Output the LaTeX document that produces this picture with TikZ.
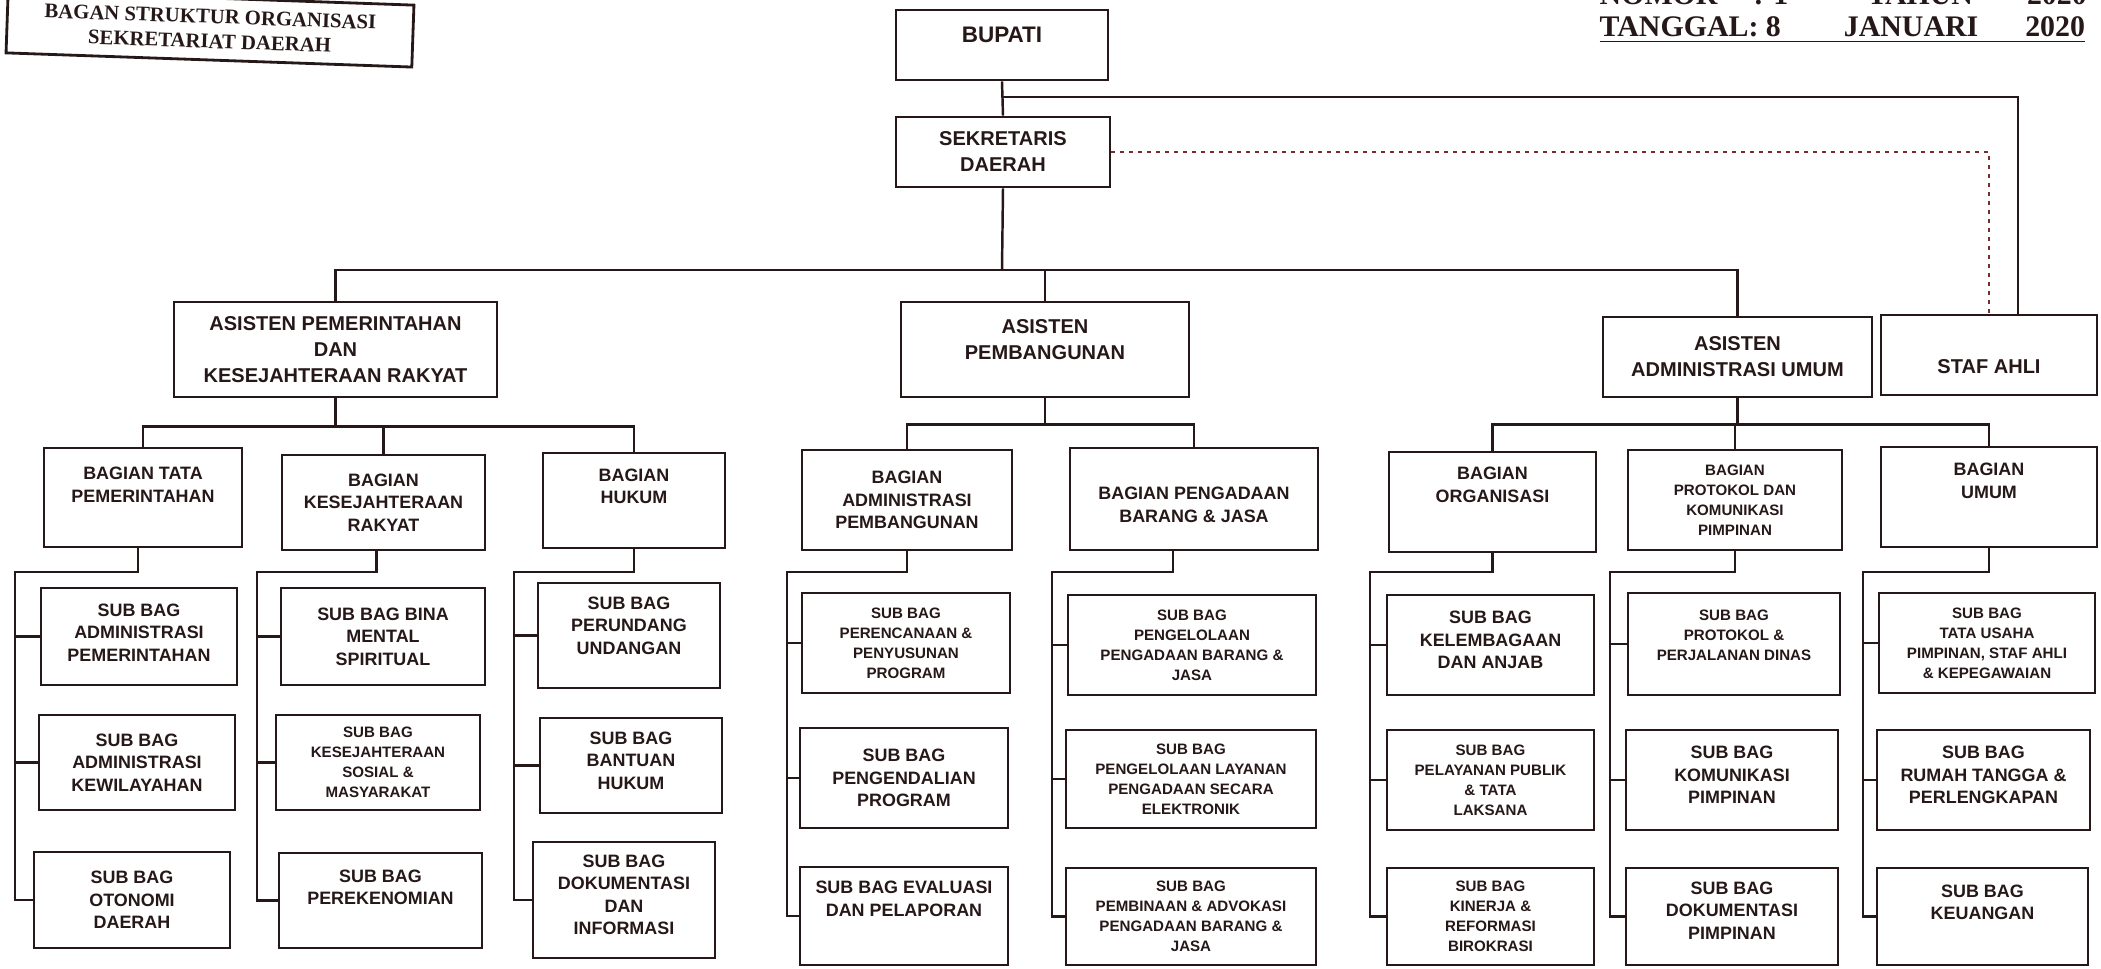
\documentclass[tikz,border=0pt]{standalone}
\usepackage{fontspec}
\setmainfont{Liberation Serif}
\newfontfamily\kotakfont{Liberation Sans}
\usetikzlibrary{fit}
\definecolor{tinta}{RGB}{38,24,24}
\definecolor{putus}{RGB}{120,45,45}
\tikzset{
  kotak/.style={draw=tinta, line width=0.8pt, inner sep=0pt, fit={#1}},
  besar/.style={align=center, text=tinta, font=\kotakfont\bfseries\fontsize{5.7}{7.4}\selectfont},
  sedang/.style={align=center, text=tinta, font=\kotakfont\bfseries\fontsize{5.1}{6.4}\selectfont},
  kecil/.style={align=center, text=tinta, font=\kotakfont\bfseries\fontsize{4.3}{5.7}\selectfont},
  garis/.style={draw=tinta, line width=0.7pt},
  titik/.style={draw=putus, line width=0.6pt, dash pattern=on 0.35mm off 0.55mm},
}
\begin{document}
\begin{tikzpicture}[x=0.1mm, y=-0.1mm]
\useasboundingbox (0,0) rectangle (2101,969);
\clip (0,0) rectangle (2101,969);
% judul dan nomor
\node[draw=tinta, line width=0.8pt, minimum width=40.6mm, minimum height=6mm, rotate=-2, align=center, text=tinta, font=\bfseries\fontsize{5.9}{7}\selectfont] (judul) at (210,29) {BAGAN STRUKTUR ORGANISASI\\SEKRETARIAT DAERAH};
\node[anchor=base west, inner sep=0pt, text=tinta, font=\bfseries\fontsize{8.5}{9}\selectfont] (nomor) at (1599,5) {NOMOR\hspace*{3.6mm}: 1\hspace*{7.9mm}TAHUN\hspace*{5.4mm}2020};
\node[anchor=base west, inner sep=0pt, text=tinta, font=\bfseries\fontsize{8.5}{9}\selectfont] (tanggal) at (1599,36) {\underline{TANGGAL: 8\hspace*{6.3mm}JANUARI\hspace*{4.7mm}2020}};
% pimpinan
\node[kotak={(896,10)(1108,80)}, label={[besar, font=\kotakfont\bfseries\fontsize{6.4}{7.4}\selectfont, yshift=1mm]center:BUPATI}] (bupati) {};
\node[kotak={(896,117)(1110,187)}, label={[besar]center:SEKRETARIS\\DAERAH}] (sekda) {};
\node[kotak={(174,302)(497,397)}, label={[besar]center:ASISTEN PEMERINTAHAN\\DAN\\KESEJAHTERAAN RAKYAT}] (asPem) {};
\node[kotak={(901,302)(1189,397)}, label={[besar, yshift=1mm]center:ASISTEN\\PEMBANGUNAN}] (asBang) {};
\node[kotak={(1603,317)(1872,397)}, label={[besar]center:ASISTEN\\ADMINISTRASI UMUM}] (asAU) {};
\node[kotak={(1881,315)(2097,395)}, label={[besar, yshift=-1.2mm]center:STAF AHLI}] (staf) {};
% bagian
\node[kotak={(44,448)(242,547)}, label={[sedang, yshift=1.3mm]center:BAGIAN TATA\\PEMERINTAHAN}] (tatapem) {};
\node[kotak={(282,455)(485,550)}, label={[sedang]center:BAGIAN\\KESEJAHTERAAN\\RAKYAT}] (kesra) {};
\node[kotak={(543,453)(725,548)}, label={[sedang, yshift=1.4mm]center:BAGIAN\\HUKUM}] (hukum) {};
\node[kotak={(802,450)(1012,550)}, label={[sedang]center:BAGIAN\\ADMINISTRASI\\PEMBANGUNAN}] (admpemb) {};
\node[kotak={(1070,448)(1318,550)}, label={[sedang, yshift=-0.6mm]center:BAGIAN PENGADAAN\\BARANG \& JASA}] (pengadaan) {};
\node[kotak={(1389,452)(1596,552)}, label={[sedang, yshift=1.7mm]center:BAGIAN\\ORGANISASI}] (organisasi) {};
\node[kotak={(1628,450)(1842,550)}, label={[kecil]center:BAGIAN\\PROTOKOL DAN\\KOMUNIKASI\\PIMPINAN}] (protokol) {};
\node[kotak={(1881,447)(2097,547)}, label={[sedang, yshift=1.6mm]center:BAGIAN\\UMUM}] (umum) {};
% sub bagian
\node[kotak={(41,588)(237,685)}, label={[sedang, yshift=0.4mm]center:SUB BAG\\ADMINISTRASI\\PEMERINTAHAN}] (adpem) {};
\node[kotak={(39,715)(235,810)}, label={[sedang]center:SUB BAG\\ADMINISTRASI\\KEWILAYAHAN}] (kewil) {};
\node[kotak={(34,852)(230,948)}, label={[sedang]center:SUB BAG\\OTONOMI\\DAERAH}] (otda) {};
\node[kotak={(281,588)(485,685)}, label={[sedang]center:SUB BAG BINA\\MENTAL\\SPIRITUAL}] (mental) {};
\node[kotak={(276,715)(480,810)}, label={[kecil]center:SUB BAG\\KESEJAHTERAAN\\SOSIAL \&\\MASYARAKAT}] (sosial) {};
\node[kotak={(279,853)(482,948)}, label={[sedang, yshift=1.3mm]center:SUB BAG\\PEREKENOMIAN}] (ekonomi) {};
\node[kotak={(538,583)(720,688)}, label={[sedang, yshift=1mm]center:SUB BAG\\PERUNDANG\\UNDANGAN}] (undang) {};
\node[kotak={(540,718)(722,813)}, label={[sedang, yshift=0.5mm]center:SUB BAG\\BANTUAN\\HUKUM}] (bantuan) {};
\node[kotak={(533,842)(715,958)}, label={[sedang, yshift=0.5mm]center:SUB BAG\\DOKUMENTASI\\DAN\\INFORMASI}] (dokinfo) {};
\node[kotak={(802,593)(1010,693)}, label={[kecil]center:SUB BAG\\PERENCANAAN \&\\PENYUSUNAN\\PROGRAM}] (rencana) {};
\node[kotak={(800,728)(1008,828)}, label={[sedang]center:SUB BAG\\PENGENDALIAN\\PROGRAM}] (kendali) {};
\node[kotak={(800,867)(1008,965)}, label={[sedang, yshift=1.7mm]center:SUB BAG EVALUASI\\DAN PELAPORAN}] (evaluasi) {};
\node[kotak={(1068,595)(1316,695)}, label={[kecil]center:SUB BAG\\PENGELOLAAN\\PENGADAAN BARANG \&\\JASA}] (kelola) {};
\node[kotak={(1066,730)(1316,828)}, label={[kecil]center:SUB BAG\\PENGELOLAAN LAYANAN\\PENGADAAN SECARA\\ELEKTRONIK}] (layanan) {};
\node[kotak={(1066,868)(1316,965)}, label={[kecil]center:SUB BAG\\PEMBINAAN \& ADVOKASI\\PENGADAAN BARANG \&\\JASA}] (advokasi) {};
\node[kotak={(1387,595)(1594,695)}, label={[sedang, yshift=0.5mm]center:SUB BAG\\KELEMBAGAAN\\DAN ANJAB}] (anjab) {};
\node[kotak={(1387,730)(1594,830)}, label={[kecil]center:SUB BAG\\PELAYANAN PUBLIK\\\& TATA\\LAKSANA}] (publik) {};
\node[kotak={(1387,868)(1594,965)}, label={[kecil]center:SUB BAG\\KINERJA \&\\REFORMASI\\BIROKRASI}] (kinerja) {};
\node[kotak={(1628,593)(1840,695)}, label={[kecil, yshift=0.9mm]center:SUB BAG\\PROTOKOL \&\\PERJALANAN DINAS}] (dinas) {};
\node[kotak={(1626,730)(1838,830)}, label={[sedang, yshift=0.5mm]center:SUB BAG\\KOMUNIKASI\\PIMPINAN}] (kompim) {};
\node[kotak={(1626,868)(1838,965)}, label={[sedang, yshift=0.6mm]center:SUB BAG\\DOKUMENTASI\\PIMPINAN}] (dokpim) {};
\node[kotak={(1879,593)(2095,693)}, label={[kecil]center:SUB BAG\\TATA USAHA\\{PIMPINAN, STAF AHLI}\\\& KEPEGAWAIAN}] (tu) {};
\node[kotak={(1877,730)(2090,830)}, label={[sedang, yshift=0.5mm]center:SUB BAG\\RUMAH TANGGA \&\\PERLENGKAPAN}] (rt) {};
\node[kotak={(1877,868)(2088,965)}, label={[sedang, yshift=1.4mm]center:SUB BAG\\KEUANGAN}] (uang) {};
% garis
\coordinate (cab) at (1002,97);
\coordinate (bus) at (1002,270);
\draw[garis] (bupati.south) -- (sekda.north);
\draw[garis] (cab) -| ([xshift=2.9mm]staf.north);
\draw[titik] (sekda.east) -| (staf.north);
\draw[garis] (sekda.south) -- (bus);
\draw[garis] (asPem.north) |- (bus) -| (asAU.north);
\draw[garis] (asBang.north) -- (asBang.north |- bus);
\draw[garis] (asPem.south) -- ++(0,28) coordinate (b1);
\draw[garis] (tatapem.north) |- (b1) -| (hukum.north);
\draw[garis] (kesra.north) -- (kesra.north |- b1);
\draw[garis] (asBang.south) -- ++(0,26) coordinate (b2);
\draw[garis] (admpemb.north) |- (b2) -| (pengadaan.north);
\draw[garis] (asAU.south) -- ++(0,26) coordinate (b3);
\draw[garis] (organisasi.north) |- (b3) -| (umum.north);
\draw[garis] (protokol.north) -- (protokol.north |- b3);
\foreach \bag/\dx/\sx/\a/\bb/\c in {tatapem/-0.5/15/adpem/kewil/otda, kesra/-0.7/257/mental/sosial/ekonomi, hukum/0/514/undang/bantuan/dokinfo, admpemb/0/787/rencana/kendali/evaluasi, pengadaan/-2.1/1052/kelola/layanan/advokasi, organisasi/0/1370/anjab/publik/kinerja, protokol/0/1610/dinas/kompim/dokpim, umum/0/1863/tu/rt/uang}{
  \coordinate (sp) at (\sx,572);
  \draw[garis] ([xshift=\dx mm]\bag.south) |- (sp) |- (\c.west);
  \draw[garis] (sp |- \a.west) -- (\a.west);
  \draw[garis] (sp |- \bb.west) -- (\bb.west);
}
\end{tikzpicture}
\end{document}
